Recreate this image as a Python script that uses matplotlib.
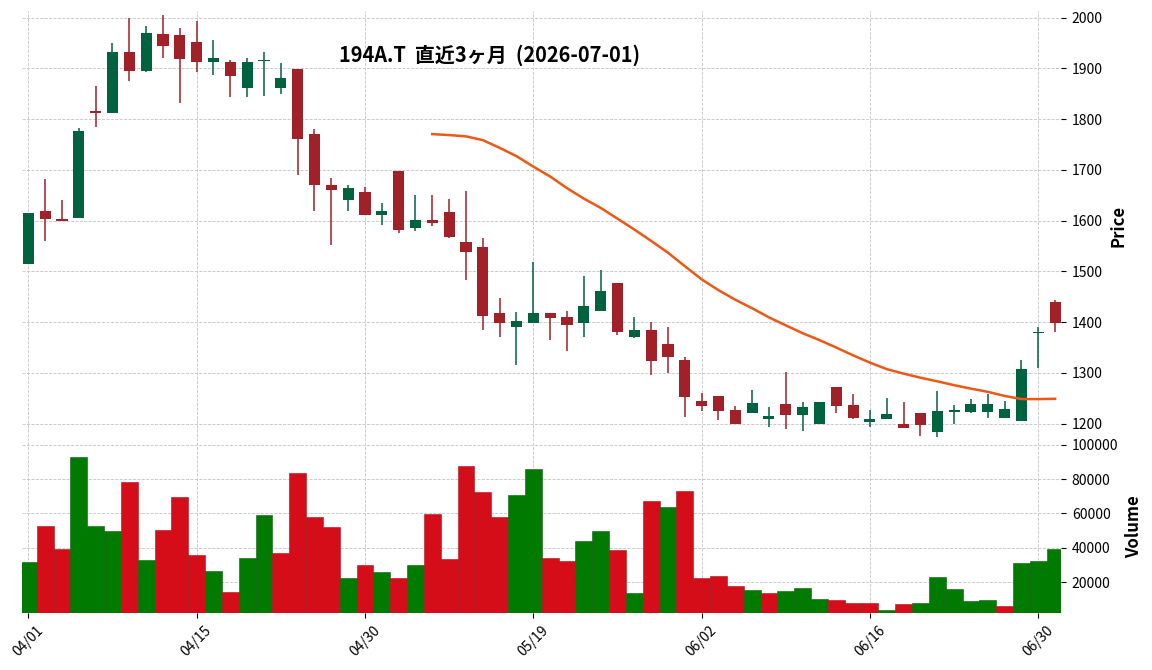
import matplotlib
matplotlib.use("Agg")
import matplotlib.pyplot as plt
import numpy as np
import pandas as pd

plt.rcParams['font.family'] = ['Noto Sans CJK JP', 'DejaVu Sans']

dates = (
    ["2026-04-%02d" % d for d in [1, 2, 3, 6, 7, 8, 9, 10, 13, 14, 15, 16, 17, 20, 21, 22, 23, 24, 27, 28, 30]]
    + ["2026-05-%02d" % d for d in [1, 7, 8, 11, 12, 13, 14, 15, 18, 19, 20, 21, 22, 25, 26, 27, 28, 29]]
    + ["2026-06-%02d" % d for d in [1, 2, 3, 4, 5, 8, 9, 10, 11, 12, 15, 16, 17, 18, 19, 22, 23, 24, 25, 26, 29, 30]]
    + ["2026-07-01"]
)

opens = [1515, 1620, 1603, 1605, 1816, 1813, 1932, 1895, 1968, 1966,
         1952, 1913, 1912, 1862, 1915, 1862, 1899, 1771, 1670, 1641,
         1656, 1612, 1698, 1586, 1601, 1617, 1558, 1548, 1418, 1391,
         1399, 1418, 1410, 1399, 1423, 1478, 1370, 1385, 1357, 1326,
         1245, 1255, 1227, 1222, 1210, 1239, 1218, 1200, 1273, 1237,
         1204, 1210, 1199, 1221, 1184, 1224, 1223, 1224, 1212, 1206,
         1378, 1440]
highs = [1616, 1683, 1640, 1782, 1865, 1949, 2000, 1983, 2006, 1979,
         1994, 1955, 1916, 1920, 1933, 1910, 1899, 1781, 1685, 1670,
         1666, 1634, 1698, 1650, 1650, 1642, 1659, 1565, 1447, 1420,
         1519, 1418, 1422, 1492, 1502, 1478, 1410, 1400, 1390, 1332,
         1260, 1255, 1234, 1266, 1233, 1301, 1242, 1243, 1273, 1259,
         1227, 1250, 1242, 1221, 1265, 1236, 1249, 1259, 1244, 1325,
         1391, 1443]
lows = [1515, 1559, 1599, 1605, 1785, 1813, 1876, 1893, 1920, 1831,
        1892, 1886, 1844, 1844, 1846, 1849, 1689, 1620, 1552, 1620,
        1611, 1591, 1575, 1580, 1590, 1566, 1483, 1385, 1370, 1315,
        1399, 1365, 1343, 1371, 1422, 1375, 1369, 1296, 1299, 1213,
        1225, 1207, 1200, 1221, 1194, 1190, 1185, 1199, 1221, 1210,
        1193, 1210, 1192, 1175, 1174, 1200, 1222, 1211, 1212, 1205,
        1310, 1381]
closes = [1615, 1603, 1599, 1777, 1813, 1932, 1895, 1970, 1945, 1919,
          1913, 1920, 1885, 1912, 1917, 1881, 1761, 1671, 1661, 1664,
          1612, 1619, 1582, 1601, 1596, 1568, 1539, 1413, 1399, 1402,
          1418, 1409, 1395, 1432, 1462, 1381, 1385, 1324, 1332, 1253,
          1234, 1226, 1200, 1241, 1215, 1218, 1233, 1243, 1234, 1211,
          1210, 1219, 1192, 1198, 1225, 1227, 1238, 1239, 1229, 1308,
          1380, 1399]
volumes = [31800, 52700, 39400, 92900, 52700, 49800, 78300, 33000, 50400, 69600,
           35900, 26600, 14400, 34100, 59100, 37000, 83600, 58000, 52200, 22500,
           30100, 26000, 22500, 30100, 59700, 33600, 87600, 72500, 58000, 70800,
           85900, 34100, 32400, 44000, 49800, 38800, 13800, 67300, 63800, 73100,
           22500, 23700, 17900, 15500, 13800, 14900, 16700, 10300, 9700, 8000,
           8000, 3900, 7400, 8000, 23100, 16100, 9100, 9700, 6200, 31200,
           32400, 39400]

title = "194A.T  直近3ヶ月  (2026-07-01)"
mav_window = 25

df = pd.DataFrame({"Open": opens, "High": highs, "Low": lows, "Close": closes,
                   "Volume": volumes}, index=pd.to_datetime(dates))
x = np.arange(len(df))
mav = df["Close"].rolling(mav_window).mean()

up_c, dn_c = '#006340', '#a02128'
vup_c, vdn_c = '#007a00', '#d50d18'

W, H = 1152, 670
fig = plt.figure(figsize=(W / 100, H / 100), dpi=100)
left = 22 / W
width = (1061.4 - 22) / W
ax = fig.add_axes([left, 1 - 441 / H, width, (441 - 10.5) / H])
axv = fig.add_axes([left, 1 - 612.7 / H, width, (612.7 - 441) / H], sharex=ax)

o = df["Open"].values; c = df["Close"].values
hi = df["High"].values; lo = df["Low"].values
cup = c >= o
ccol = np.where(cup, up_c, dn_c)
ax.vlines(x, lo, hi, colors=ccol, linewidth=1.1, zorder=3)
ax.bar(x, np.abs(c - o), bottom=np.minimum(o, c), width=0.66, color=ccol,
       linewidth=0, zorder=4)
ax.plot(x, mav.values, color='#ef5714', linewidth=1.8, zorder=5)

prev = np.concatenate([[c[0]], c[:-1]])
vup = c >= prev
vcol = np.where(vup, vup_c, vdn_c)
ecol = np.where(vup, '#0b5f0b', '#a8121a')
axv.bar(x, df["Volume"].values, width=1.0, color=vcol, edgecolor=ecol,
        linewidth=0.4, zorder=3)

for a in (ax, axv):
    for s in a.spines.values():
        s.set_visible(False)
    a.grid(True, linestyle='--', linewidth=0.6, color='#c4c4c4', zorder=0)
    a.set_axisbelow(True)
    a.yaxis.tick_right()
    a.yaxis.set_label_position('right')
    a.tick_params(axis='both', direction='out', length=3.5, width=0.8,
                  labelsize=10, pad=4, colors='black')

ax.set_xlim(-0.374, len(df) - 1 + 0.374)
ax.set_ylim(1166, 2014)
ax.set_yticks(np.arange(1200, 2001, 100))
ax.tick_params(axis='x', bottom=False, labelbottom=False)
ax.set_ylabel('Price', fontsize=12, fontweight='bold', labelpad=5)

axv.set_ylim(2300, 102150)
axv.set_yticks(np.arange(20000, 100001, 20000))
axv.set_ylabel('Volume', fontsize=12, fontweight='bold', labelpad=5)
tick_idx = list(range(0, len(df), 10))
axv.set_xticks(tick_idx)
axv.set_xticklabels([df.index[i].strftime('%m/%d') for i in tick_idx],
                    rotation=45, ha='center')

fig.text(490 / W, 1 - 55 / H, title, ha='center', va='center',
         fontsize=14.4, fontweight='bold')

fig.savefig('out.png', dpi=100)
